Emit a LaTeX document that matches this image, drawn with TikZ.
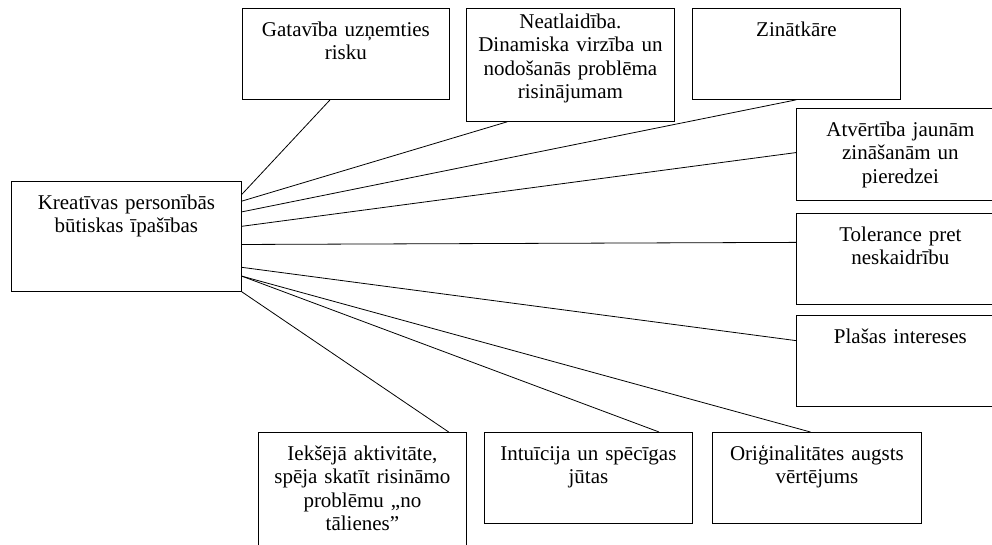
\documentclass[tikz,border=0pt]{standalone}
\usepackage{fontspec}
\setmainfont{Liberation Serif}

\begin{document}
\begin{tikzpicture}[x=1pt,y=-1pt,line width=0.8pt,
	box/.style={draw,anchor=north west,inner sep=0pt,align=center,text width=208pt,text height=28pt,text depth=63pt,font=\fontsize{21}{23.5}\selectfont}]

		\useasboundingbox (0,0) rectangle (992,544);

		\node (kreat) at (11,181) [box,text width=230pt,text depth=82pt]{Kreatīvas personībās\\būtiskas īpašības};

		\node (gatav) at (242,8) [box,text width=207pt]{Gatavība uzņemties\\risku};
		\node (neatl) at (466,8) [box,text height=20pt,text depth=93pt]{Neatlaidība.\\Dinamiska virzība un\\nodošanās problēma\\risinājumam};
		\node (zinat) at (692,8) [box]{Zinātkāre};

		\node (atver) at (796,108) [box,text depth=64pt]{Atvērtība jaunām\\zināšanām un\\pieredzei};
		\node (toler) at (796,213) [box]{Tolerance pret\\neskaidrību};
		\node (plasas) at (796,315) [box]{Plašas intereses};

		\node (ieksej) at (258,432) [box,text depth=92pt]{Iekšējā aktivitāte,\\spēja skatīt risināmo\\problēmu „no\\tālienes”};
		\node (intuic) at (484,432) [box]{Intuīcija un spēcīgas\\jūtas};
		\node (origin) at (712,432) [box,text width=209pt]{Oriģinalitātes augsts\\vērtējums};

		\draw (kreat.20) -- (gatav.251);
		\draw (kreat.17) -- (neatl.222);
		\draw (kreat.12) -- (zinat.south);

		\draw (kreat.5.5) -- (atver.179);
		\draw (kreat.-4.5) -- (toler.171);
		\draw (kreat.-15) -- (plasas.169);

		\draw (kreat.-19) -- (origin.98);
		\draw (kreat.-19) -- (intuic.33);
		\draw (kreat.south east) -- (ieksej.35);
	\end{tikzpicture}
\end{document}
